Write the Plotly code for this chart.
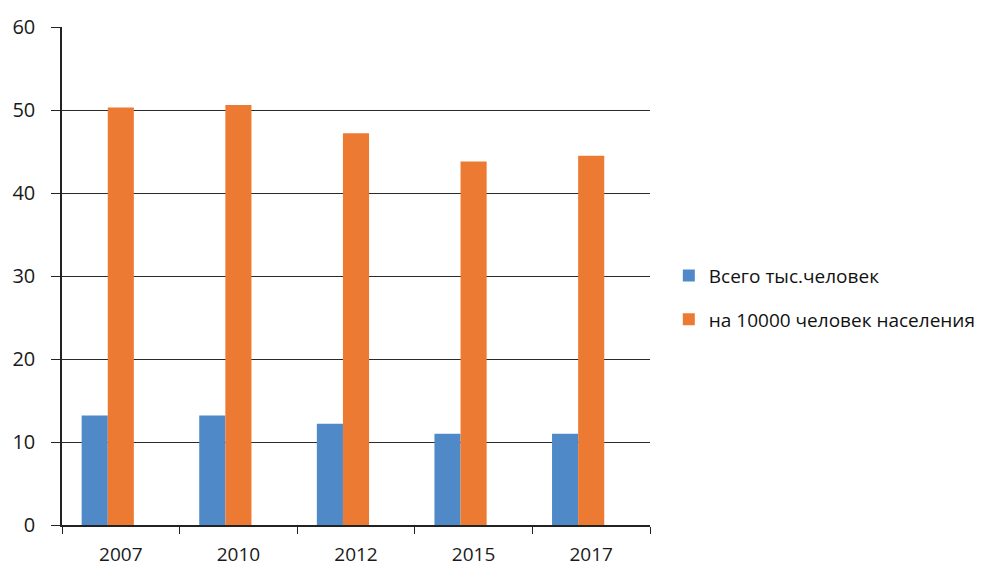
import plotly.graph_objects as go

years = ["2007", "2010", "2012", "2015", "2017"]
total_thousand = [13.2, 13.2, 12.2, 11.0, 11.0]
per_10000 = [50.3, 50.6, 47.2, 43.8, 44.5]
y_ticks = [0, 10, 20, 30, 40, 50, 60]

BAR_W = 0.222
fig = go.Figure()
fig.add_trace(go.Bar(x=years, y=total_thousand, name="Всего тыс.человек",
                     marker=dict(color="#4F89C8", line=dict(width=0)),
                     width=BAR_W, offset=-1.5 * BAR_W, legendgroup="a"))
fig.add_trace(go.Bar(x=years, y=per_10000, name="на 10000 человек населения",
                     marker=dict(color="#EC7A32", line=dict(width=0)),
                     width=BAR_W, offset=-0.5 * BAR_W, legendgroup="b"))

fig.update_layout(
    width=995, height=570,
    margin=dict(l=62, r=345, t=27, b=45),
    paper_bgcolor="white", plot_bgcolor="white",
    barmode="overlay",
    font=dict(family="Open Sans, Liberation Sans, sans-serif", size=20, color="#1a1a1a"),
    legend=dict(x=1.032, y=0.539, xanchor="left", yanchor="top",
                traceorder="grouped", tracegroupgap=16,
                font=dict(size=19, color="#111"), itemwidth=30),
    showlegend=True,
)
fig.update_xaxes(
    type="category", tickson="boundaries", ticks="outside", ticklen=7,
    tickcolor="#222", showline=True, linecolor="#222", linewidth=1.5,
    showgrid=False, tickfont=dict(size=19, color="#1a1a1a"),
    ticklabelstandoff=11, automargin=False,
)
fig.update_yaxes(
    range=[0, 60], tickvals=y_ticks, ticks="outside", ticklen=9,
    tickcolor="#222", showline=True, linecolor="#222", linewidth=1.5,
    showgrid=True, gridcolor="#2a2a2a", gridwidth=1.3, zeroline=False,
    tickfont=dict(size=20, color="#1a1a1a"),
    ticklabelstandoff=12, automargin=False,
)
fig.write_html("out.html")
